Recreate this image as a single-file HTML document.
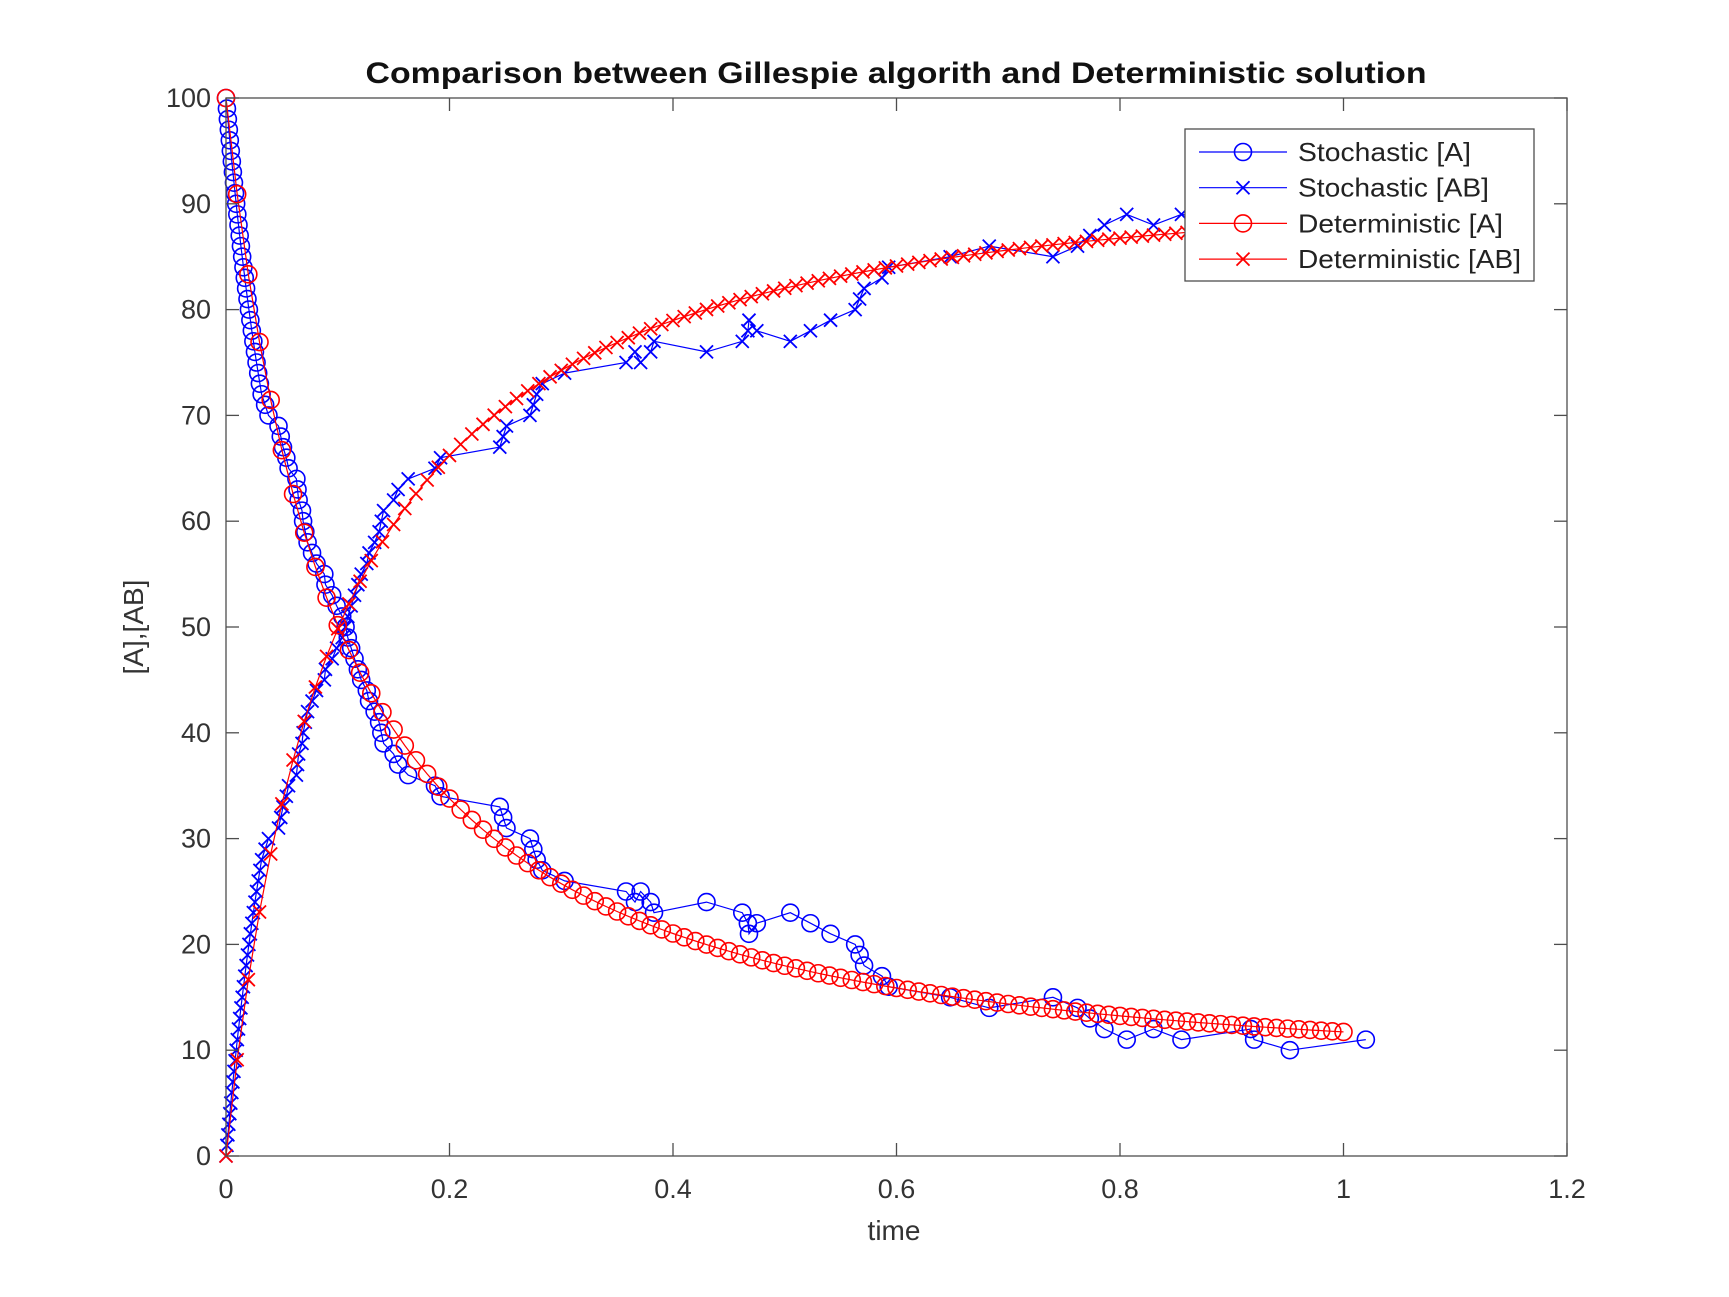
<!DOCTYPE html>
<html><head><meta charset="utf-8"><style>
html,body{margin:0;padding:0;background:#fff;}
svg{display:block;font-family:"Liberation Sans",sans-serif;}
</style></head><body>
<svg id="s" width="1729" height="1297" viewBox="0 0 1729 1297" xmlns="http://www.w3.org/2000/svg">
<rect width="1729" height="1297" fill="#fff"/>
<g id="plot"></g>
<rect x="226" y="98" width="1341" height="1058" fill="none" stroke="#4d4d4d" stroke-width="1.3"/>
<g id="ticks" stroke="#4d4d4d" stroke-width="1.3"></g>
<g id="labels" fill="#333" font-size="27"></g>
<text x="896" y="83" text-anchor="middle" font-size="30" font-weight="bold" fill="#111" textLength="1061" lengthAdjust="spacingAndGlyphs">Comparison between Gillespie algorith and Deterministic solution</text>
<text x="894" y="1240" text-anchor="middle" font-size="28" fill="#333">time</text>
<text transform="translate(143,627) rotate(-90)" text-anchor="middle" font-size="28" fill="#333">[A],[AB]</text>
<g id="legend"></g>
</svg>
<script>
var NS="http://www.w3.org/2000/svg";
function el(p,n,a){var e=document.createElementNS(NS,n);for(var k in a)e.setAttribute(k,a[k]);p.appendChild(e);return e;}
var X=function(t){return 226+t*1117.5;}, Y=function(v){return 1156-v*10.58;};
var tk=document.getElementById('ticks'), lb=document.getElementById('labels');
for(var i=0;i<=6;i++){var x=X(i*0.2);el(tk,'line',{x1:x,y1:1156,x2:x,y2:1143});el(tk,'line',{x1:x,y1:98,x2:x,y2:111});
 var t=el(lb,'text',{x:x,y:1198,'text-anchor':'middle'});t.textContent=(i==0?'0':i==5?'1':(i*0.2).toFixed(1));}
for(var i=0;i<=10;i++){var y=Y(i*10);el(tk,'line',{x1:226,y1:y,x2:239,y2:y});el(tk,'line',{x1:1567,y1:y,x2:1554,y2:y});
 var t=el(lb,'text',{x:211,y:y+9,'text-anchor':'end'});t.textContent=String(i*10);}
var k=0.1,kr=0.09,A=100,det=[];var dt=0.0001;
for(var s=0;s<=10000;s++){ if(s%100==0) det.push([s*dt,A]); A+=dt*(-k*A*A+kr*(100-A)); }
var st=[];
for(var a=100;a>=72;a--){st.push([(100/a-1)/10*0.82,a]);}
var mid=[[0.035,71],[0.038,70],[0.047,69],[0.049,68],[0.051,67],[0.054,66],[0.056,65],[0.063,64],[0.064,63],[0.065,62],[0.068,61],[0.069,60],[0.071,59],[0.073,58],[0.077,57],[0.081,56],[0.088,55],[0.089,54],[0.095,53],[0.099,52],[0.104,51],[0.107,50],[0.109,49],[0.112,48],[0.115,47],[0.118,46],[0.121,45],[0.126,44],[0.128,43],[0.133,42],[0.137,41],[0.139,40],[0.141,39],[0.150,38],[0.154,37],[0.163,36],[0.187,35],[0.192,34],[0.245,33],[0.248,32],[0.251,31],[0.272,30],[0.275,29],[0.278,28],[0.283,27],[0.303,26],[0.358,25],[0.366,24],[0.371,25],[0.380,24],[0.383,23],[0.430,24],[0.462,23],[0.467,22],[0.468,21],[0.475,22],[0.505,23],[0.523,22],[0.541,21],[0.563,20],[0.567,19],[0.571,18],[0.587,17],[0.593,16],[0.648,15],[0.683,14],[0.740,15],[0.762,14],[0.773,13],[0.786,12],[0.806,11],[0.830,12],[0.855,11],[0.917,12],[0.920,11],[0.952,10],[1.02,11]];
st=st.concat(mid);
var pl=document.getElementById('plot');
function series(pts,col,mk){
 el(pl,'polyline',{points:pts.map(function(p){return X(p[0]).toFixed(1)+','+Y(p[1]).toFixed(1)}).join(' '),fill:'none',stroke:col,'stroke-width':1.2});
 pts.forEach(function(p){marker(pl,X(p[0]),Y(p[1]),col,mk);});
}
function marker(g,x,y,col,mk){
 if(mk=='o') el(g,'circle',{cx:x,cy:y,r:8.5,fill:'none',stroke:col,'stroke-width':1.6});
 else el(g,'path',{d:'M'+(x-6.5)+','+(y-6.5)+'L'+(x+6.5)+','+(y+6.5)+'M'+(x-6.5)+','+(y+6.5)+'L'+(x+6.5)+','+(y-6.5),stroke:col,'stroke-width':1.8,fill:'none'});
}
series(st,'#0000ff','o');
series(st.map(function(p){return [p[0],100-p[1]]}),'#0000ff','x');
series(det,'#ff0000','o');
series(det.map(function(p){return [p[0],100-p[1]]}),'#ff0000','x');
var lg=document.getElementById('legend');
el(lg,'rect',{x:1185,y:129,width:349,height:152,fill:'#fff',stroke:'#4d4d4d','stroke-width':1.3});
var items=[['Stochastic [A]','#0000ff','o',173],['Stochastic [AB]','#0000ff','x',191],['Deterministic [A]','#ff0000','o',205],['Deterministic [AB]','#ff0000','x',223]];
items.forEach(function(it,i){var y=152+i*35.7;
 el(lg,'line',{x1:1199,y1:y,x2:1287,y2:y,stroke:it[1],'stroke-width':1.2});
 marker(lg,1243,y,it[1],it[2]);
 var t=el(lg,'text',{x:1298,y:y+9,'font-size':26,fill:'#222',textLength:it[3],lengthAdjust:'spacingAndGlyphs'});t.textContent=it[0];});
</script>
</body></html>
